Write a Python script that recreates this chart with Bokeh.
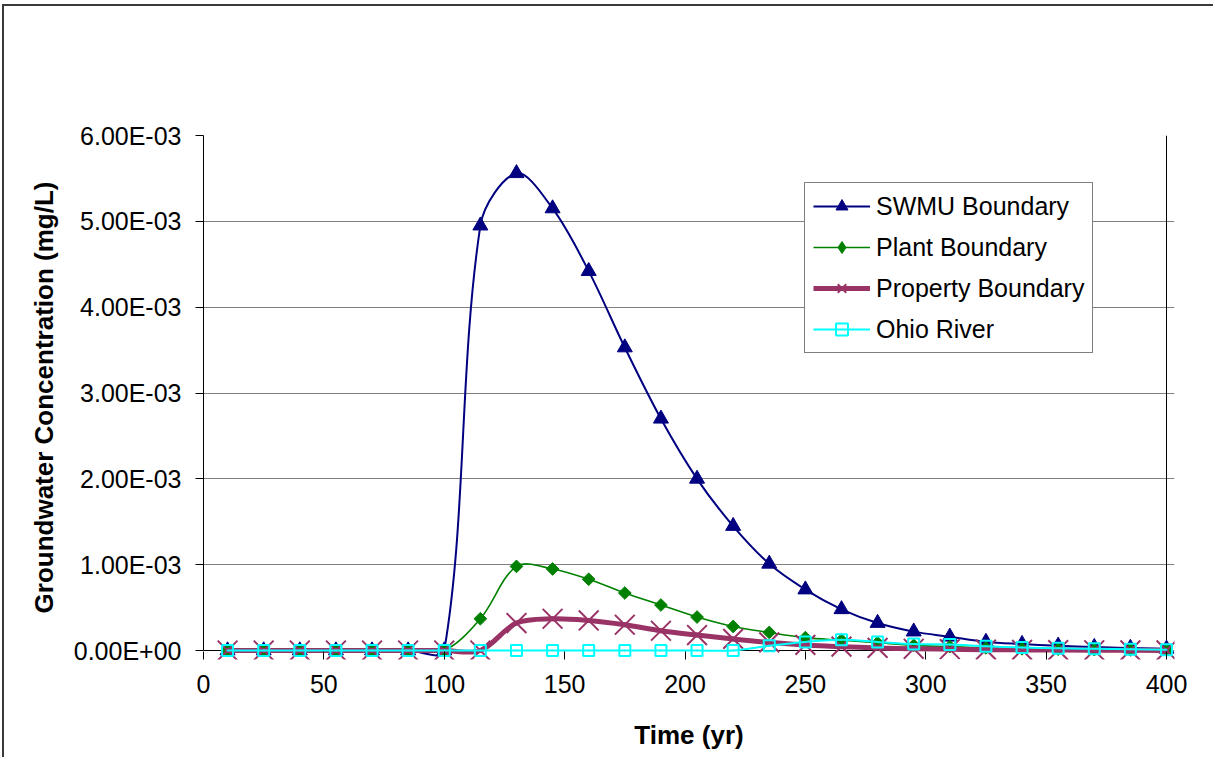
import math
from bokeh.plotting import figure
from bokeh.models import Range1d, FixedTicker, Legend, LegendItem
from bokeh.embed import file_html
from bokeh.resources import INLINE

# ---------------- data ----------------
time_yr = [10, 25, 40, 55, 70, 85, 100, 115, 130, 145, 160, 175, 190, 205,
           220, 235, 250, 265, 280, 295, 310, 325, 340, 355, 370, 385, 400]

swmu_boundary = [0, 0, 0, 0, 0, 0, 0,
                 4.95e-3, 5.56e-3, 5.15e-3, 4.42e-3, 3.53e-3, 2.70e-3, 2.00e-3,
                 1.45e-3, 1.01e-3, 0.71e-3, 0.48e-3, 0.32e-3, 0.22e-3, 0.16e-3,
                 0.10e-3, 0.075e-3, 0.055e-3, 0.04e-3, 0.03e-3, 0.02e-3]

plant_boundary = [0, 0, 0, 0, 0, 0, 0,
                  0.37e-3, 0.98e-3, 0.95e-3, 0.83e-3, 0.67e-3, 0.53e-3, 0.39e-3,
                  0.28e-3, 0.21e-3, 0.15e-3, 0.12e-3, 0.09e-3, 0.06e-3, 0.045e-3,
                  0.03e-3, 0.02e-3, 0.015e-3, 0.01e-3, 0.008e-3, 0.005e-3]

property_boundary = [0, 0, 0, 0, 0, 0, 0, 0,
                     0.32e-3, 0.37e-3, 0.35e-3, 0.30e-3, 0.23e-3, 0.18e-3,
                     0.135e-3, 0.095e-3, 0.065e-3, 0.045e-3, 0.03e-3, 0.02e-3, 0.015e-3,
                     0.01e-3, 0.007e-3, 0.005e-3, 0.003e-3, 0.002e-3, 0.001e-3]

ohio_river = [0, 0, 0, 0, 0, 0, 0, 0, 0, 0, 0, 0, 0, 0, 0,
              0.055e-3, 0.10e-3, 0.125e-3, 0.10e-3, 0.075e-3, 0.07e-3,
              0.05e-3, 0.035e-3, 0.025e-3, 0.02e-3, 0.015e-3, 0.01e-3]

series_names = ["SWMU Boundary", "Plant Boundary", "Property Boundary", "Ohio River"]

x_ticks = [0, 50, 100, 150, 200, 250, 300, 350, 400]
y_ticks = [0.0, 0.001, 0.002, 0.003, 0.004, 0.005, 0.006]
y_tick_labels = ["0.00E+00", "1.00E-03", "2.00E-03", "3.00E-03",
                 "4.00E-03", "5.00E-03", "6.00E-03"]

# ---------------- layout ----------------
X_MAX, Y_MAX = 400, 6e-3
FRAME_W, FRAME_H = 971, 524
AXIS_W, AXIS_H = 963, 515          # pixels spanned by 0..400 and 0..6e-3
x_end = X_MAX * FRAME_W / AXIS_W
y_start = -Y_MAX * (FRAME_H - AXIS_H) / AXIS_H
kx = FRAME_W / x_end
ky = FRAME_H / (Y_MAX - y_start)

FONT = "Liberation Sans"

p = figure(frame_width=FRAME_W, frame_height=FRAME_H,
           x_range=Range1d(0, x_end), y_range=Range1d(y_start, Y_MAX),
           output_backend="svg", toolbar_location=None,
           min_border_left=199, min_border_top=129,
           min_border_right=41, min_border_bottom=100)
p.background_fill_color = "white"
p.border_fill_color = "white"
p.outline_line_color = None
# outer chart-area border on the left and top edges
p.styles = {"margin-left": "4px", "margin-top": "6px",
            "box-shadow": "-2px -2px 0px 0px #3a3a3a"}


def smooth(xs, ys):
    """Bezier control points (Excel-like smoothed line) computed from data."""
    n = len(xs)
    P = [(x * kx, y * ky) for x, y in zip(xs, ys)]
    d = [math.hypot(P[i + 1][0] - P[i][0], P[i + 1][1] - P[i][1]) for i in range(n - 1)]
    out = {k: [] for k in ("x0", "y0", "x1", "y1", "cx0", "cy0", "cx1", "cy1")}
    for i in range(n - 1):
        j = i + 1
        if i == 0:
            T = (P[1][0] - P[0][0], P[1][1] - P[0][1]); f = 1 / 3
        else:
            T = (P[j][0] - P[i - 1][0], P[j][1] - P[i - 1][1]); f = d[i] / (d[i - 1] + d[i]) / 3
        c0 = (P[i][0] + f * T[0], P[i][1] + f * T[1])
        if j == n - 1:
            T = (P[j][0] - P[i][0], P[j][1] - P[i][1]); f = 1 / 3
        else:
            T = (P[j + 1][0] - P[i][0], P[j + 1][1] - P[i][1]); f = d[i] / (d[i] + d[j]) / 3
        c1 = (P[j][0] - f * T[0], P[j][1] - f * T[1])
        out["x0"].append(xs[i]); out["y0"].append(ys[i])
        out["x1"].append(xs[j]); out["y1"].append(ys[j])
        out["cx0"].append(c0[0] / kx); out["cy0"].append(c0[1] / ky)
        out["cx1"].append(c1[0] / kx); out["cy1"].append(c1[1] / ky)
    return out


# plot-area edges: x axis line at y = 0 and right border at x = 400
p.segment(x0=[0, X_MAX], y0=[0, 0], x1=[X_MAX, X_MAX], y1=[0, Y_MAX],
          line_color="black", line_width=1)

styles = [
    dict(color="#000080", lw=2, marker="triangle", size=15, fill="#000080", mlw=1, angle=0,
         lmarker="triangle", lsize=15),
    dict(color="#008000", lw=1.6, marker="square", size=9, fill="#008000", mlw=1, angle=math.pi / 4,
         lmarker="diamond", lsize=15),
    dict(color="#993366", lw=5, marker="x", size=28, fill=None, mlw=2, angle=0,
         lmarker="x", lsize=28),
    dict(color="#00FFFF", lw=2, marker="square", size=11, fill=None, mlw=2, angle=0,
         lmarker="square", lsize=11),
]
series_values = [swmu_boundary, plant_boundary, property_boundary, ohio_river]

items = []
for name, vals, st in zip(series_names, series_values, styles):
    seg = smooth(time_yr, vals)
    p.bezier(x0=seg["x0"], y0=seg["y0"], x1=seg["x1"], y1=seg["y1"],
             cx0=seg["cx0"], cy0=seg["cy0"], cx1=seg["cx1"], cy1=seg["cy1"],
             line_color=st["color"], line_width=st["lw"], line_cap="round")
    p.scatter(x=time_yr, y=vals, marker=st["marker"], size=st["size"],
              angle=st["angle"], line_color=st["color"], line_width=st["mlw"],
              fill_color=st["fill"])
    # legend swatches (not drawn in the plot area)
    proxy_line = p.line(x=time_yr, y=vals, line_color=st["color"], line_width=st["lw"],
                        visible=False)
    proxy_mark = p.scatter(x=time_yr, y=vals, marker=st["lmarker"], size=st["lsize"],
                           line_color=st["color"], line_width=st["mlw"],
                           fill_color=st["fill"], visible=False)
    items.append(LegendItem(label=name, renderers=[proxy_line, proxy_mark]))

# ---------------- axes ----------------
xa = p.xaxis[0]
xa.bounds = (0, X_MAX)
xa.ticker = FixedTicker(ticks=x_ticks)
xa.axis_label = "Time (yr)"
xa.axis_line_color = None
xa.major_tick_in = 8
xa.major_tick_out = 0
ya = p.yaxis[0]
ya.bounds = (0, Y_MAX)
ya.ticker = FixedTicker(ticks=y_ticks)
ya.major_label_overrides = {t: lab for t, lab in zip(y_ticks, y_tick_labels)}
ya.axis_label = "Groundwater Concentration (mg/L)"
ya.axis_line_color = "black"
ya.major_tick_in = 0
ya.major_tick_out = 8

for ax in (xa, ya):
    ax.axis_line_width = 1
    ax.major_tick_line_color = "black"
    ax.minor_tick_line_color = None
    ax.major_label_text_font = FONT
    ax.major_label_text_font_size = "25px"
    ax.major_label_text_color = "black"
    ax.axis_label_text_font = FONT
    ax.axis_label_text_font_size = "26px"
    ax.axis_label_text_font_style = "bold"
    ax.axis_label_text_color = "black"
xa.major_label_standoff = 15
xa.axis_label_standoff = 24
ya.major_label_standoff = 14
ya.axis_label_standoff = 12

p.xgrid.visible = False
p.ygrid.grid_line_color = "#7f7f7f"
p.ygrid.grid_line_width = 1

# ---------------- legend ----------------
legend = Legend(items=items, location=(601, 306), margin=0, padding=8,
                glyph_width=57, glyph_height=30, label_height=30,
                label_standoff=6, spacing=11,
                label_text_font=FONT, label_text_font_size="25px",
                label_text_color="black",
                inactive_fill_alpha=0,
                border_line_color="black", border_line_width=1,
                background_fill_color="white", background_fill_alpha=1)
p.add_layout(legend)

open("out.html", "w").write(file_html(p, INLINE))
